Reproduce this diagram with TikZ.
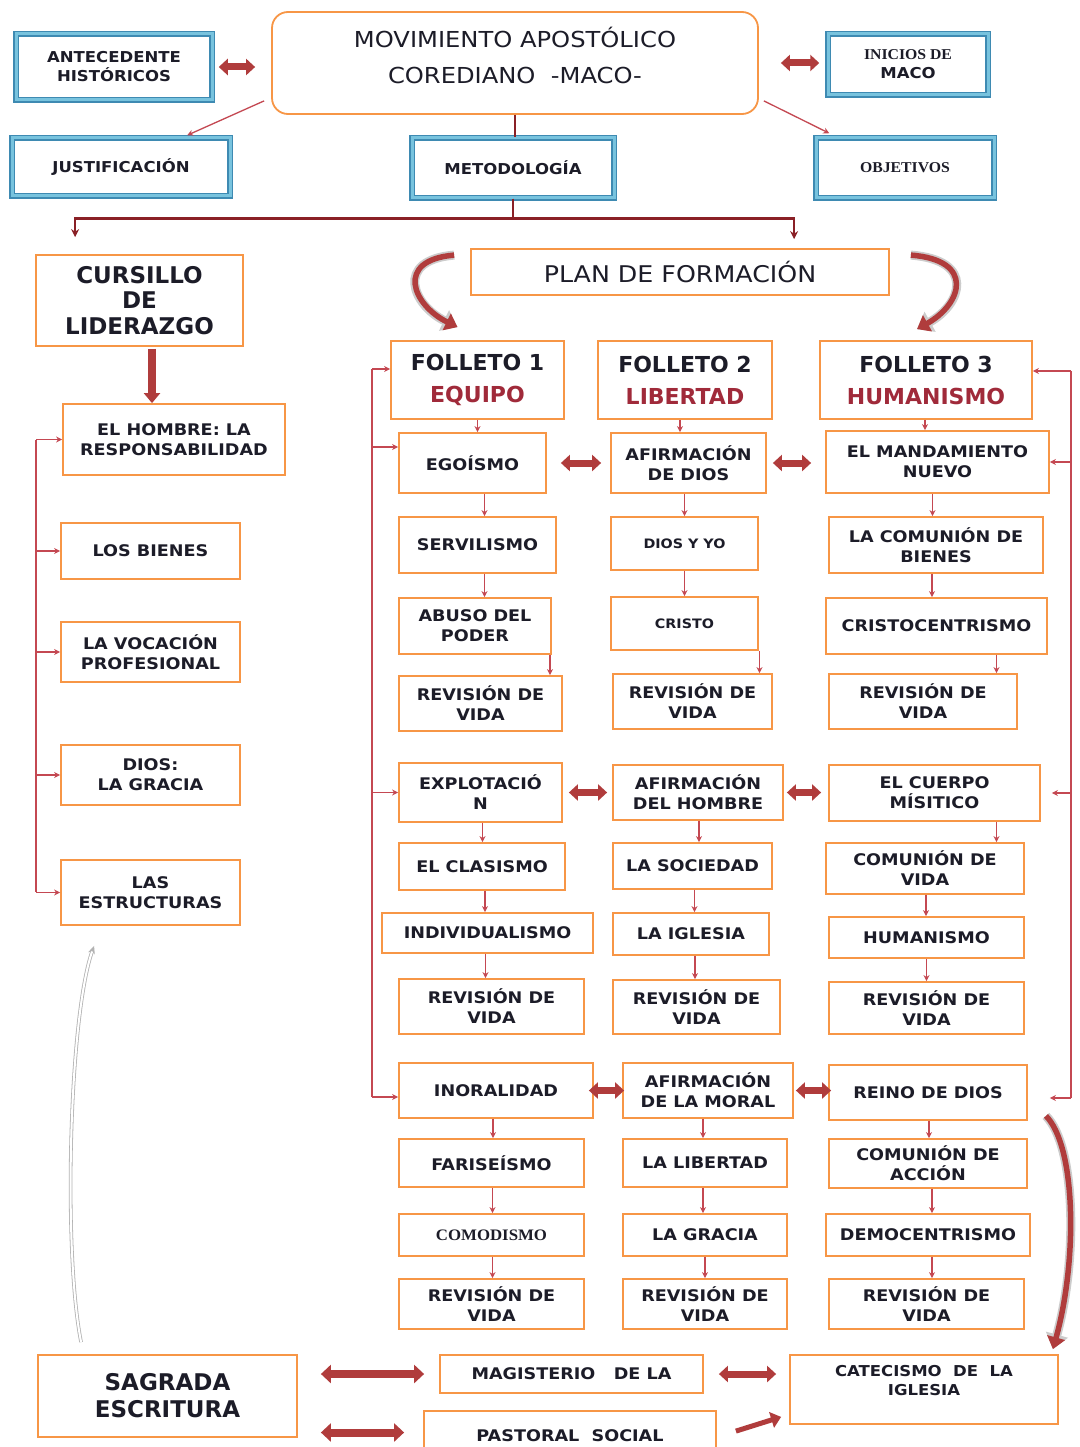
\documentclass[tikz,border=0pt]{standalone}
\usepackage{fontspec}
\setmainfont[FakeStretch=1.1]{DejaVu Sans}
\newfontfamily\tfont{DejaVu Sans}
\newfontfamily\serifb[FakeStretch=1.05]{Liberation Serif}
\usetikzlibrary{arrows.meta,calc}
\definecolor{orB}{RGB}{247,150,70}
\definecolor{blO}{RGB}{62,138,178}
\definecolor{blI}{RGB}{120,195,222}
\definecolor{cn}{RGB}{196,72,82}
\definecolor{blkc}{RGB}{176,60,60}
\definecolor{mar}{RGB}{138,32,38}
\definecolor{tx}{RGB}{28,28,40}
\definecolor{subc}{RGB}{160,42,58}
\tikzset{
  obox/.style={draw=orB, line width=1.8pt, fill=white, align=center, inner sep=1pt, text=tx,
    font=\bfseries\fontsize{16}{20}\selectfont},
  bbox/.style={draw=blO, double=blI, double distance=3pt, line width=1.5pt, fill=white,
    align=center, inner sep=1pt, text=tx, font=\bfseries\fontsize{15}{19}\selectfont},
  fbox/.style={obox, font=\tfont\bfseries\fontsize{22}{32}\selectfont},
  tline/.style={draw=cn, line width=1.3pt},
  tarr/.style={tline, -{Stealth[length=6pt,width=6pt]}},
  mline/.style={draw=mar, line width=2.6pt},
  marr/.style={mline, -{Stealth[length=8pt,width=8pt]}},
  dbl/.style={draw=blkc, line width=7pt, {Triangle[length=9pt,width=16pt]}-{Triangle[length=9pt,width=16pt]}},
  bdbl/.style={draw=blkc, line width=8pt, {Triangle[length=10pt,width=18pt]}-{Triangle[length=10pt,width=18pt]}},
  sgl/.style={draw=blkc, line width=7pt, -{Triangle[length=10pt,width=16pt]}},
  cvs/.style={draw=gray!40, line width=9pt, -{Triangle[length=15pt,width=22pt]}},
  cvr/.style={draw=blkc, line width=5.5pt, -{Triangle[length=12pt,width=18pt]}},
  gcurve/.style={draw=gray!60, line width=0.8pt, double=white, double distance=2pt, {Stealth[length=8pt,width=7pt]}-}
}
\newcommand\bx[7][obox]{\node[#1,minimum width=#5pt-#3pt,minimum height=#6pt-#4pt] (#2) at ({(#3+#5)/2},{(#4+#6)/2}) {#7};}
\newcommand\dar[3]{\path ([xshift=#3pt]#1.south) coordinate (tmpa); \draw[tarr] (tmpa) -- (tmpa |- #2.north);}
\begin{document}
\begin{tikzpicture}[x=1pt,y=-1pt]
\useasboundingbox (0,0) rectangle (1079,1447);
\clip (0,0) rectangle (1079,1447);
\fill[white] (0,0) rectangle (1079,1447);

% ---------- top ----------
\node[obox, rounded corners=16pt, minimum width=486pt, minimum height=102pt] (mov) at (515,63) {};
\node[font=\fontsize{22}{36}\selectfont, text=tx, align=center] (movt) at (515,55) {MOVIMIENTO APOSTÓLICO\\COREDIANO\ \ -MACO-};
\bx[bbox]{ante}{16}{34}{212}{100}{ANTECEDENTE\\HISTÓRICOS}
\bx[bbox]{ini}{828}{34}{988}{95}{\serifb INICIOS DE\\MACO}
\bx[bbox]{just}{12}{138}{230}{196}{JUSTIFICACIÓN}
\bx[bbox]{metod}{412}{138}{614}{198}{METODOLOGÍA}
\bx[bbox]{obj}{816}{138}{994}{198}{\serifb OBJETIVOS}

\draw[dbl, shorten <=6pt, shorten >=16pt] (ante.east) -- (ante.east -| mov.west);
\draw[dbl, shorten <=22pt, shorten >=8pt] (mov.east) -- (mov.east -| ini.west);
\draw[tarr] ([xshift=-7pt,yshift=14pt]mov.south west) -- ([xshift=176pt,yshift=2pt]just.north west);
\draw[tarr] ([xshift=5pt,yshift=14pt]mov.south east) -- ([xshift=14pt,yshift=4pt]obj.north west);
\draw[mline] (mov.south) -- (mov.south |- metod.north);

% ---------- left column ----------
\bx[obox,font=\tfont\bfseries\fontsize{23}{25.5}\selectfont]{curs}{36}{255}{243}{346}{CURSILLO\\DE\\LIDERAZGO}
\bx{hombre}{63}{404}{285}{475}{EL HOMBRE: LA\\RESPONSABILIDAD}
\bx{bienes}{61}{523}{240}{579}{LOS BIENES}
\bx{voc}{61}{622}{240}{682}{LA VOCACIÓN\\PROFESIONAL}
\bx{dios}{61}{745}{240}{805}{DIOS:\\LA GRACIA}
\bx{estr}{61}{860}{240}{925}{LAS\\ESTRUCTURAS}

\draw[marr] (metod.south) -- ++(0,20) -| ([xshift=40pt,yshift=17pt]curs.north west);

\path ([xshift=12.5pt]curs.south) coordinate (c1);
\draw[sgl, line width=8pt, shorten <=2pt] (c1) -- (c1 |- hombre.north);

\coordinate (cbt) at (36,440);
\coordinate (cbb) at (36,892);
\draw[tline] (cbt) -- (cbb);
\draw[tarr] (cbt |- hombre.west) -- (hombre.west);
\draw[tarr] (cbt |- bienes.west) -- (bienes.west);
\draw[tarr] (cbt |- voc.west) -- (voc.west);
\draw[tarr] (cbt |- dios.west) -- (dios.west);
\draw[tarr] (cbt |- estr.west) -- (estr.west);

% ---------- plan ----------
\bx[obox,font=\fontsize{23}{28}\selectfont]{plan}{471}{249}{889}{295}{PLAN DE FORMACIÓN}
\draw[marr] (metod.south) -- ++(0,20) -| ([xshift=324pt,yshift=9pt]plan.north west);

\bx[fbox]{f1}{391}{341}{564}{419}{FOLLETO 1\\\textcolor{subc}{EQUIPO}}
\bx[fbox]{f2}{598}{341}{772}{419}{FOLLETO 2\\\textcolor{subc}{LIBERTAD}}
\bx[fbox]{f3}{820}{341}{1032}{419}{FOLLETO 3\\\textcolor{subc}{HUMANISMO}}

\draw[cvs] ([xshift=-16pt,yshift=-7pt]plan.north west) .. controls +(-60,5) and +(-45,-22) .. ([xshift=-20pt,yshift=13pt]f1.north);
\draw[cvr] ([xshift=-16pt,yshift=-7pt]plan.north west) .. controls +(-60,5) and +(-45,-22) .. ([xshift=-20pt,yshift=13pt]f1.north);
\draw[cvs] ([xshift=21pt,yshift=-7pt]plan.north east) .. controls +(65,5) and +(45,-25) .. ([xshift=-9pt,yshift=11pt]f3.north);
\draw[cvr] ([xshift=21pt,yshift=-7pt]plan.north east) .. controls +(65,5) and +(45,-25) .. ([xshift=-9pt,yshift=11pt]f3.north);

% ---------- column 1 ----------
\bx{ego}{399}{433}{546}{493}{EGOÍSMO}
\bx{serv}{399}{517}{556}{573}{SERVILISMO}
\bx{abuso}{399}{598}{551}{654}{ABUSO DEL\\PODER}
\bx{rva}{399}{676}{562}{731}{REVISIÓN DE\\VIDA}
\bx{explot}{399}{763}{562}{822}{EXPLOTACIÓ\\N}
\bx{clas}{399}{843}{565}{890}{EL CLASISMO}
\bx{indiv}{382}{913}{593}{953}{INDIVIDUALISMO}
\bx{rvb}{399}{979}{584}{1034}{REVISIÓN DE\\VIDA}
\bx{inor}{399}{1063}{593}{1118}{INORALIDAD}
\bx{faris}{399}{1139}{584}{1187}{FARISEÍSMO}
\bx{comod}{399}{1214}{584}{1256}{\serifb COMODISMO}
\bx{rvc}{399}{1279}{584}{1329}{REVISIÓN DE\\VIDA}

% ---------- column 2 ----------
\bx{afdios}{611}{433}{766}{493}{AFIRMACIÓN\\DE DIOS}
\bx[obox,font=\bfseries\fontsize{13}{18}\selectfont]{diosyo}{611}{517}{758}{570}{DIOS Y YO}
\bx[obox,font=\bfseries\fontsize{13}{18}\selectfont]{cristo}{611}{597}{758}{650}{CRISTO}
\bx{rv2a}{613}{674}{772}{729}{REVISIÓN DE\\VIDA}
\bx{afhom}{613}{765}{783}{820}{AFIRMACIÓN\\DEL HOMBRE}
\bx{soc}{613}{843}{772}{889}{LA SOCIEDAD}
\bx{igl}{613}{913}{769}{955}{LA IGLESIA}
\bx{rv2b}{613}{980}{780}{1034}{REVISIÓN DE\\VIDA}
\bx{afmor}{623}{1063}{793}{1118}{AFIRMACIÓN\\DE LA MORAL}
\bx{lib}{623}{1139}{787}{1187}{LA LIBERTAD}
\bx{gracia}{623}{1214}{787}{1256}{LA GRACIA}
\bx{rv2c}{623}{1279}{787}{1329}{REVISIÓN DE\\VIDA}

% ---------- column 3 ----------
\bx{mand}{826}{431}{1049}{493}{EL MANDAMIENTO\\NUEVO}
\bx{comb}{829}{517}{1043}{573}{LA COMUNIÓN DE\\BIENES}
\bx{cristoc}{826}{598}{1047}{654}{CRISTOCENTRISMO}
\bx{rv3a}{829}{674}{1017}{729}{REVISIÓN DE\\VIDA}
\bx{cuerpo}{829}{765}{1040}{821}{EL CUERPO\\MÍSITICO}
\bx{comv}{826}{843}{1024}{894}{COMUNIÓN DE\\VIDA}
\bx{hum}{829}{917}{1024}{958}{HUMANISMO}
\bx{rv3b}{829}{982}{1024}{1034}{REVISIÓN DE\\VIDA}
\bx{reino}{829}{1065}{1027}{1120}{REINO DE DIOS}
\bx{comacc}{829}{1139}{1027}{1188}{COMUNIÓN DE\\ACCIÓN}
\bx{democ}{826}{1214}{1030}{1256}{DEMOCENTRISMO}
\bx{rv3c}{829}{1279}{1024}{1329}{REVISIÓN DE\\VIDA}

% ---------- vertical small arrows ----------
\dar{f1}{ego}{0}
\dar{ego}{serv}{12}
\dar{serv}{abuso}{7}
\dar{abuso}{rva}{75}
\dar{explot}{clas}{2}
\dar{clas}{indiv}{3}
\dar{indiv}{rvb}{-2}
\dar{inor}{faris}{-3}
\dar{faris}{comod}{1}
\dar{comod}{rvc}{1}
\dar{f2}{afdios}{-5}
\dar{afdios}{diosyo}{-4}
\dar{diosyo}{cristo}{0}
\dar{cristo}{rv2a}{75}
\dar{afhom}{soc}{1}
\dar{soc}{igl}{2}
\dar{igl}{rv2b}{4}
\dar{afmor}{lib}{-5}
\dar{lib}{gracia}{-2}
\dar{gracia}{rv2c}{0}
\dar{f3}{mand}{-1}
\dar{mand}{comb}{-5}
\dar{comb}{cristoc}{-4}
\dar{cristoc}{rv3a}{60}
\dar{cuerpo}{comv}{62}
\dar{comv}{hum}{1}
\dar{hum}{rv3b}{0}
\dar{reino}{comacc}{1}
\dar{comacc}{democ}{4}
\dar{democ}{rv3c}{4}

% ---------- horizontal block arrows ----------
\draw[dbl, shorten <=14pt, shorten >=9pt] (ego.east) -- (ego.east -| afdios.west);
\draw[dbl, shorten <=6pt, shorten >=14pt] (afdios.east) -- (afdios.east -| mand.west);
\draw[dbl, shorten <=6pt, shorten >=5pt] (explot.east) -- (explot.east -| afhom.west);
\draw[dbl, shorten <=3pt, shorten >=7pt] (afhom.east) -- (afhom.east -| cuerpo.west);
\draw[dbl, shorten <=-5pt, shorten >=-2pt] (inor.east) -- (inor.east -| afmor.west);
\draw[dbl, shorten <=2pt, shorten >=-3pt] (afmor.east) -- (afmor.east -| reino.west);

% ---------- brackets ----------
\coordinate (lbt) at (372,369);
\coordinate (lbb) at (372,1097);
\coordinate (egoA) at ([yshift=16pt]ego.west);
\draw[tline] (lbt) -- (lbb);
\draw[tarr] (lbt) -- (lbt -| f1.west);
\draw[tarr] (lbt |- egoA) -- (egoA);
\draw[tarr] (lbt |- explot.west) -- (explot.west);
\draw[tarr] (lbb) -- (lbb -| inor.west);

\coordinate (rbt) at (1071,371);
\coordinate (rbb) at (1071,1098);
\coordinate (cuA) at ([xshift=11pt]cuerpo.east);
\coordinate (reA) at ([xshift=22pt]reino.east);
\draw[tline] (rbt) -- (rbb);
\draw[tarr] (rbt) -- (rbt -| f3.east);
\draw[tarr] (rbt |- mand.east) -- (mand.east);
\draw[tarr] (rbt |- cuA) -- (cuA);
\draw[tarr] (rbb) -- (rbb -| reA);

% ---------- bottom ----------
\bx[obox,font=\tfont\bfseries\fontsize{23}{27}\selectfont]{sagr}{38}{1355}{297}{1437}{SAGRADA\\ESCRITURA}
\bx{mag}{440}{1355}{703}{1393}{MAGISTERIO\ \ \ DE LA}
\bx{past}{424}{1411}{716}{1460}{PASTORAL\ \ SOCIAL}
\bx[obox,font=\bfseries\fontsize{15}{19}\selectfont]{cat}{790}{1355}{1058}{1424}{CATECISMO\ \ DE\ \ LA\\IGLESIA\\\mbox{}}

\path (sagr.east |- mag.west) coordinate (s1);
\path (sagr.east |- past.west) coordinate (s2);
\draw[bdbl, shorten <=23pt, shorten >=15pt] (s1) -- (mag.west);
\draw[bdbl, shorten <=23pt, shorten >=19pt] ([yshift=3pt]s2) -- ([yshift=3pt]past.west);
\draw[dbl, shorten <=15pt, shorten >=13pt] (mag.east) -- (mag.east -| cat.west);
\draw[sgl, line width=5pt] ([xshift=19pt,yshift=-21pt]past.north east) -- ([xshift=-8pt,yshift=8pt]cat.south west);

\draw[cvs] ([xshift=18pt,yshift=5pt]reino.south east) .. controls +(30,30) and +(25,-90) .. ([xshift=-6pt,yshift=5pt]cat.north east);
\draw[cvr] ([xshift=18pt,yshift=5pt]reino.south east) .. controls +(30,30) and +(25,-90) .. ([xshift=-6pt,yshift=5pt]cat.north east);

\draw[gcurve] ([xshift=34pt,yshift=-20pt]estr.south west) .. controls +(-25,70) and +(-18,-90) .. ([xshift=44pt,yshift=12pt]sagr.north west);
\end{tikzpicture}
\end{document}
